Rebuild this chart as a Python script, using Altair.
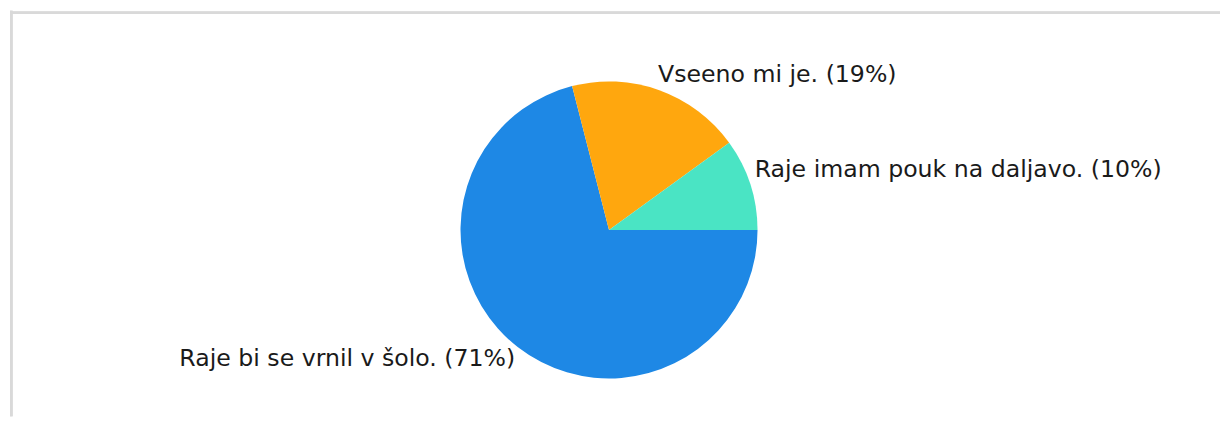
import math
import altair as alt
import pandas as pd

categories = ["Raje bi se vrnil v šolo.", "Vseeno mi je.", "Raje imam pouk na daljavo."]
percents = [71, 19, 10]
labels = ["Raje bi se vrnil v šolo. (71%)", "Vseeno mi je. (19%)", "Raje imam pouk na daljavo. (10%)"]
colors = ["#1E88E5", "#FFA70E", "#4AE4C4"]

df = pd.DataFrame({"cat": categories, "pct": percents, "label": labels, "ord": [0, 1, 2]})

W, H = 1214, 407
CX, CY = 601, 220
R = 149

theta_scale = alt.Scale(domain=[0, 100], range=[math.pi / 2, math.pi / 2 + 2 * math.pi])
color_scale = alt.Scale(domain=categories, range=colors)

base = alt.Chart(df)

pie = base.mark_arc(radius=R, stroke=None).encode(
    theta=alt.Theta("pct:Q", stack=True, scale=theta_scale),
    color=alt.Color("cat:N", scale=color_scale, legend=None),
    order=alt.Order("ord:Q"),
    x=alt.value(CX),
    y=alt.value(CY),
)

stacked = base.transform_window(
    cum="sum(pct)", sort=[alt.SortField("ord")]
).transform_calculate(mid="datum.cum - datum.pct / 2")


def text_layer(cat, align, dx, dy):
    return stacked.transform_filter(alt.datum.cat == cat).mark_text(
        radius=160, align=align, baseline="middle", dx=dx, dy=dy,
        font="DejaVu Sans", fontSize=23.7, color="#1a1a1a",
    ).encode(
        theta=alt.Theta("mid:Q", stack=None, scale=theta_scale),
        text="label:N",
        x=alt.value(CX),
        y=alt.value(CY),
    )


t_blue = text_layer(categories[0], "right", 4, 3)
t_orange = text_layer(categories[1], "left", -5, -5)
t_teal = text_layer(categories[2], "left", -6, -11)

border_top = base.mark_rule(color="#d9d9d9", strokeWidth=2.5).encode(
    x=alt.value(0), x2=alt.value(W), y=alt.value(2)
)
border_left = base.mark_rule(color="#d9d9d9", strokeWidth=2.5).encode(
    x=alt.value(1.3), y=alt.value(0), y2=alt.value(H)
)

chart = alt.layer(border_top, border_left, pie, t_blue, t_orange, t_teal).properties(
    width=W, height=H, padding=0, background="white"
).configure_view(stroke=None)

chart.save("out.html", embed_options={"renderer": "svg", "actions": False})
